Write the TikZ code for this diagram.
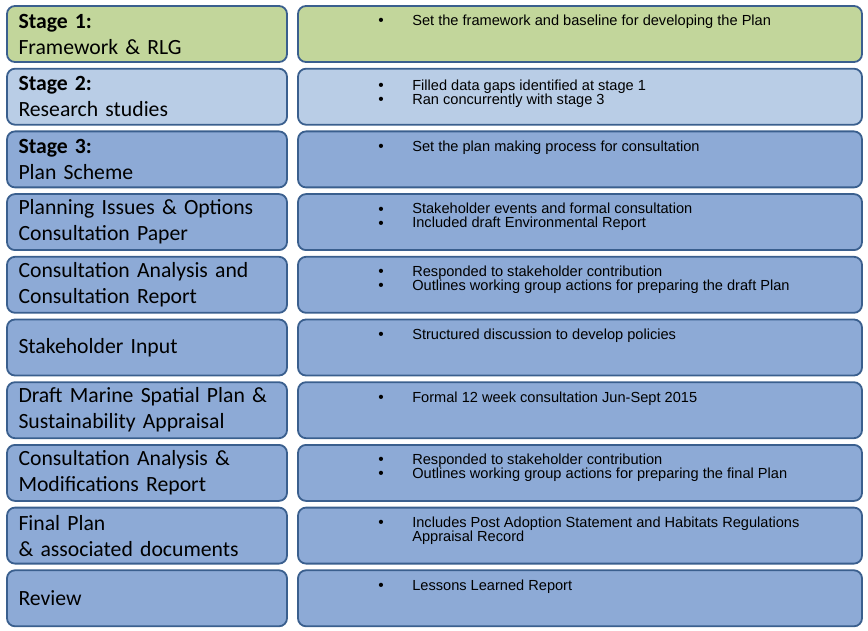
\documentclass[tikz,border=0pt]{standalone}
\usepackage{fontspec}
\newfontfamily\calib[WordSpace=0.85]{Carlito}
\newfontfamily\arial{Liberation Sans}
\definecolor{rim}{HTML}{3A5F8E}
\definecolor{leaf}{HTML}{C2D69B}
\definecolor{pale}{HTML}{B9CDE6}
\definecolor{sea}{HTML}{8DAAD6}
\begin{document}
\begin{tikzpicture}[x=1pt,y=-1pt,
	box/.style={draw=rim,line width=1.8pt,rounded corners=8pt,minimum height=56pt},
	stage/.style={box,minimum width=280pt,text width=257pt,inner xsep=11pt,align=left,
		font=\calib\fontsize{21.7}{26}\selectfont},
	info/.style={box,minimum width=564pt},
	desc/.style={anchor=north west,inner sep=0pt,align=left,
		font=\arial\fontsize{14.6}{14}\selectfont},
	dots/.style={anchor=north,inner sep=0pt,align=center,
		font=\arial\fontsize{15.5}{14}\selectfont}]
	\useasboundingbox (0,0) rectangle (868,631);
	% left column
	\node[stage,fill=leaf] (s1) at (147,34) {\textbf{Stage 1:}\\Framework \& RLG};
	\node[stage,fill=pale] (s2) at (147,96.7) {\textbf{Stage 2:}\\Research studies};
	\node[stage,fill=sea] (s3) at (147,159.4) {\textbf{Stage 3:}\\Plan Scheme};
	\node[stage,fill=sea] (s4) at (147,222.1) {Planning Issues \& Options\\Consultation Paper};
	\node[stage,fill=sea] (s5) at (147,284.8) {Consultation Analysis and\\Consultation Report};
	\node[stage,fill=sea] (s6) at (147,347.5) {Stakeholder Input};
	\node[stage,fill=sea] (s7) at (147,410.2) {Draft Marine Spatial Plan \&\\Sustainability Appraisal};
	\node[stage,fill=sea] (s8) at (147,472.9) {Consultation Analysis \&\\Modifications Report};
	\node[stage,fill=sea] (s9) at (147,535.6) {Final Plan\\\& associated documents};
	\node[stage,fill=sea] (s10) at (147,598.3) {Review};
	% right column
	\node[info,fill=leaf] (p1) at (580,34) {};
	\node[info,fill=pale] (p2) at (580,96.7) {};
	\node[info,fill=sea] (p3) at (580,159.4) {};
	\node[info,fill=sea] (p4) at (580,222.1) {};
	\node[info,fill=sea] (p5) at (580,284.8) {};
	\node[info,fill=sea] (p6) at (580,347.5) {};
	\node[info,fill=sea] (p7) at (580,410.2) {};
	\node[info,fill=sea] (p8) at (580,472.9) {};
	\node[info,fill=sea] (p9) at (580,535.6) {};
	\node[info,fill=sea] (p10) at (580,598.3) {};
	% bullets and texts
	\node[dots] (b1) at ([xshift=84pt,yshift=-10pt]p1.north west) {\vphantom{A}•};
	\node[desc] (d1) at ([xshift=115pt,yshift=-10pt]p1.north west) {Set the framework and baseline for developing the Plan};
	\node[dots] (b2) at ([xshift=84pt,yshift=-12pt]p2.north west) {\vphantom{A}•\\\vphantom{A}•};
	\node[desc] (d2) at ([xshift=115pt,yshift=-12pt]p2.north west) {Filled data gaps identified at stage 1\\Ran concurrently with stage 3};
	\node[dots] (b3) at ([xshift=84pt,yshift=-10pt]p3.north west) {\vphantom{A}•};
	\node[desc] (d3) at ([xshift=115pt,yshift=-10pt]p3.north west) {Set the plan making process for consultation};
	\node[dots] (b4) at ([xshift=84pt,yshift=-10pt]p4.north west) {\vphantom{A}•\\\vphantom{A}•};
	\node[desc] (d4) at ([xshift=115pt,yshift=-10pt]p4.north west) {Stakeholder events and formal consultation\\Included draft Environmental Report};
	\node[dots] (b5) at ([xshift=84pt,yshift=-10pt]p5.north west) {\vphantom{A}•\\\vphantom{A}•};
	\node[desc] (d5) at ([xshift=115pt,yshift=-10pt]p5.north west) {Responded to stakeholder contribution\\Outlines working group actions for preparing the draft Plan};
	\node[dots] (b6) at ([xshift=84pt,yshift=-10pt]p6.north west) {\vphantom{A}•};
	\node[desc] (d6) at ([xshift=115pt,yshift=-10pt]p6.north west) {Structured discussion to develop policies};
	\node[dots] (b7) at ([xshift=84pt,yshift=-10pt]p7.north west) {\vphantom{A}•};
	\node[desc] (d7) at ([xshift=115pt,yshift=-10pt]p7.north west) {Formal 12 week consultation Jun-Sept 2015};
	\node[dots] (b8) at ([xshift=84pt,yshift=-10pt]p8.north west) {\vphantom{A}•\\\vphantom{A}•};
	\node[desc] (d8) at ([xshift=115pt,yshift=-10pt]p8.north west) {Responded to stakeholder contribution\\Outlines working group actions for preparing the final Plan};
	\node[dots] (b9) at ([xshift=84pt,yshift=-10pt]p9.north west) {\vphantom{A}•};
	\node[desc] (d9) at ([xshift=115pt,yshift=-10pt]p9.north west) {Includes Post Adoption Statement and Habitats Regulations\\Appraisal Record};
	\node[dots] (b10) at ([xshift=84pt,yshift=-10pt]p10.north west) {\vphantom{A}•};
	\node[desc] (d10) at ([xshift=115pt,yshift=-10pt]p10.north west) {Lessons Learned Report};
\end{tikzpicture}
\end{document}
